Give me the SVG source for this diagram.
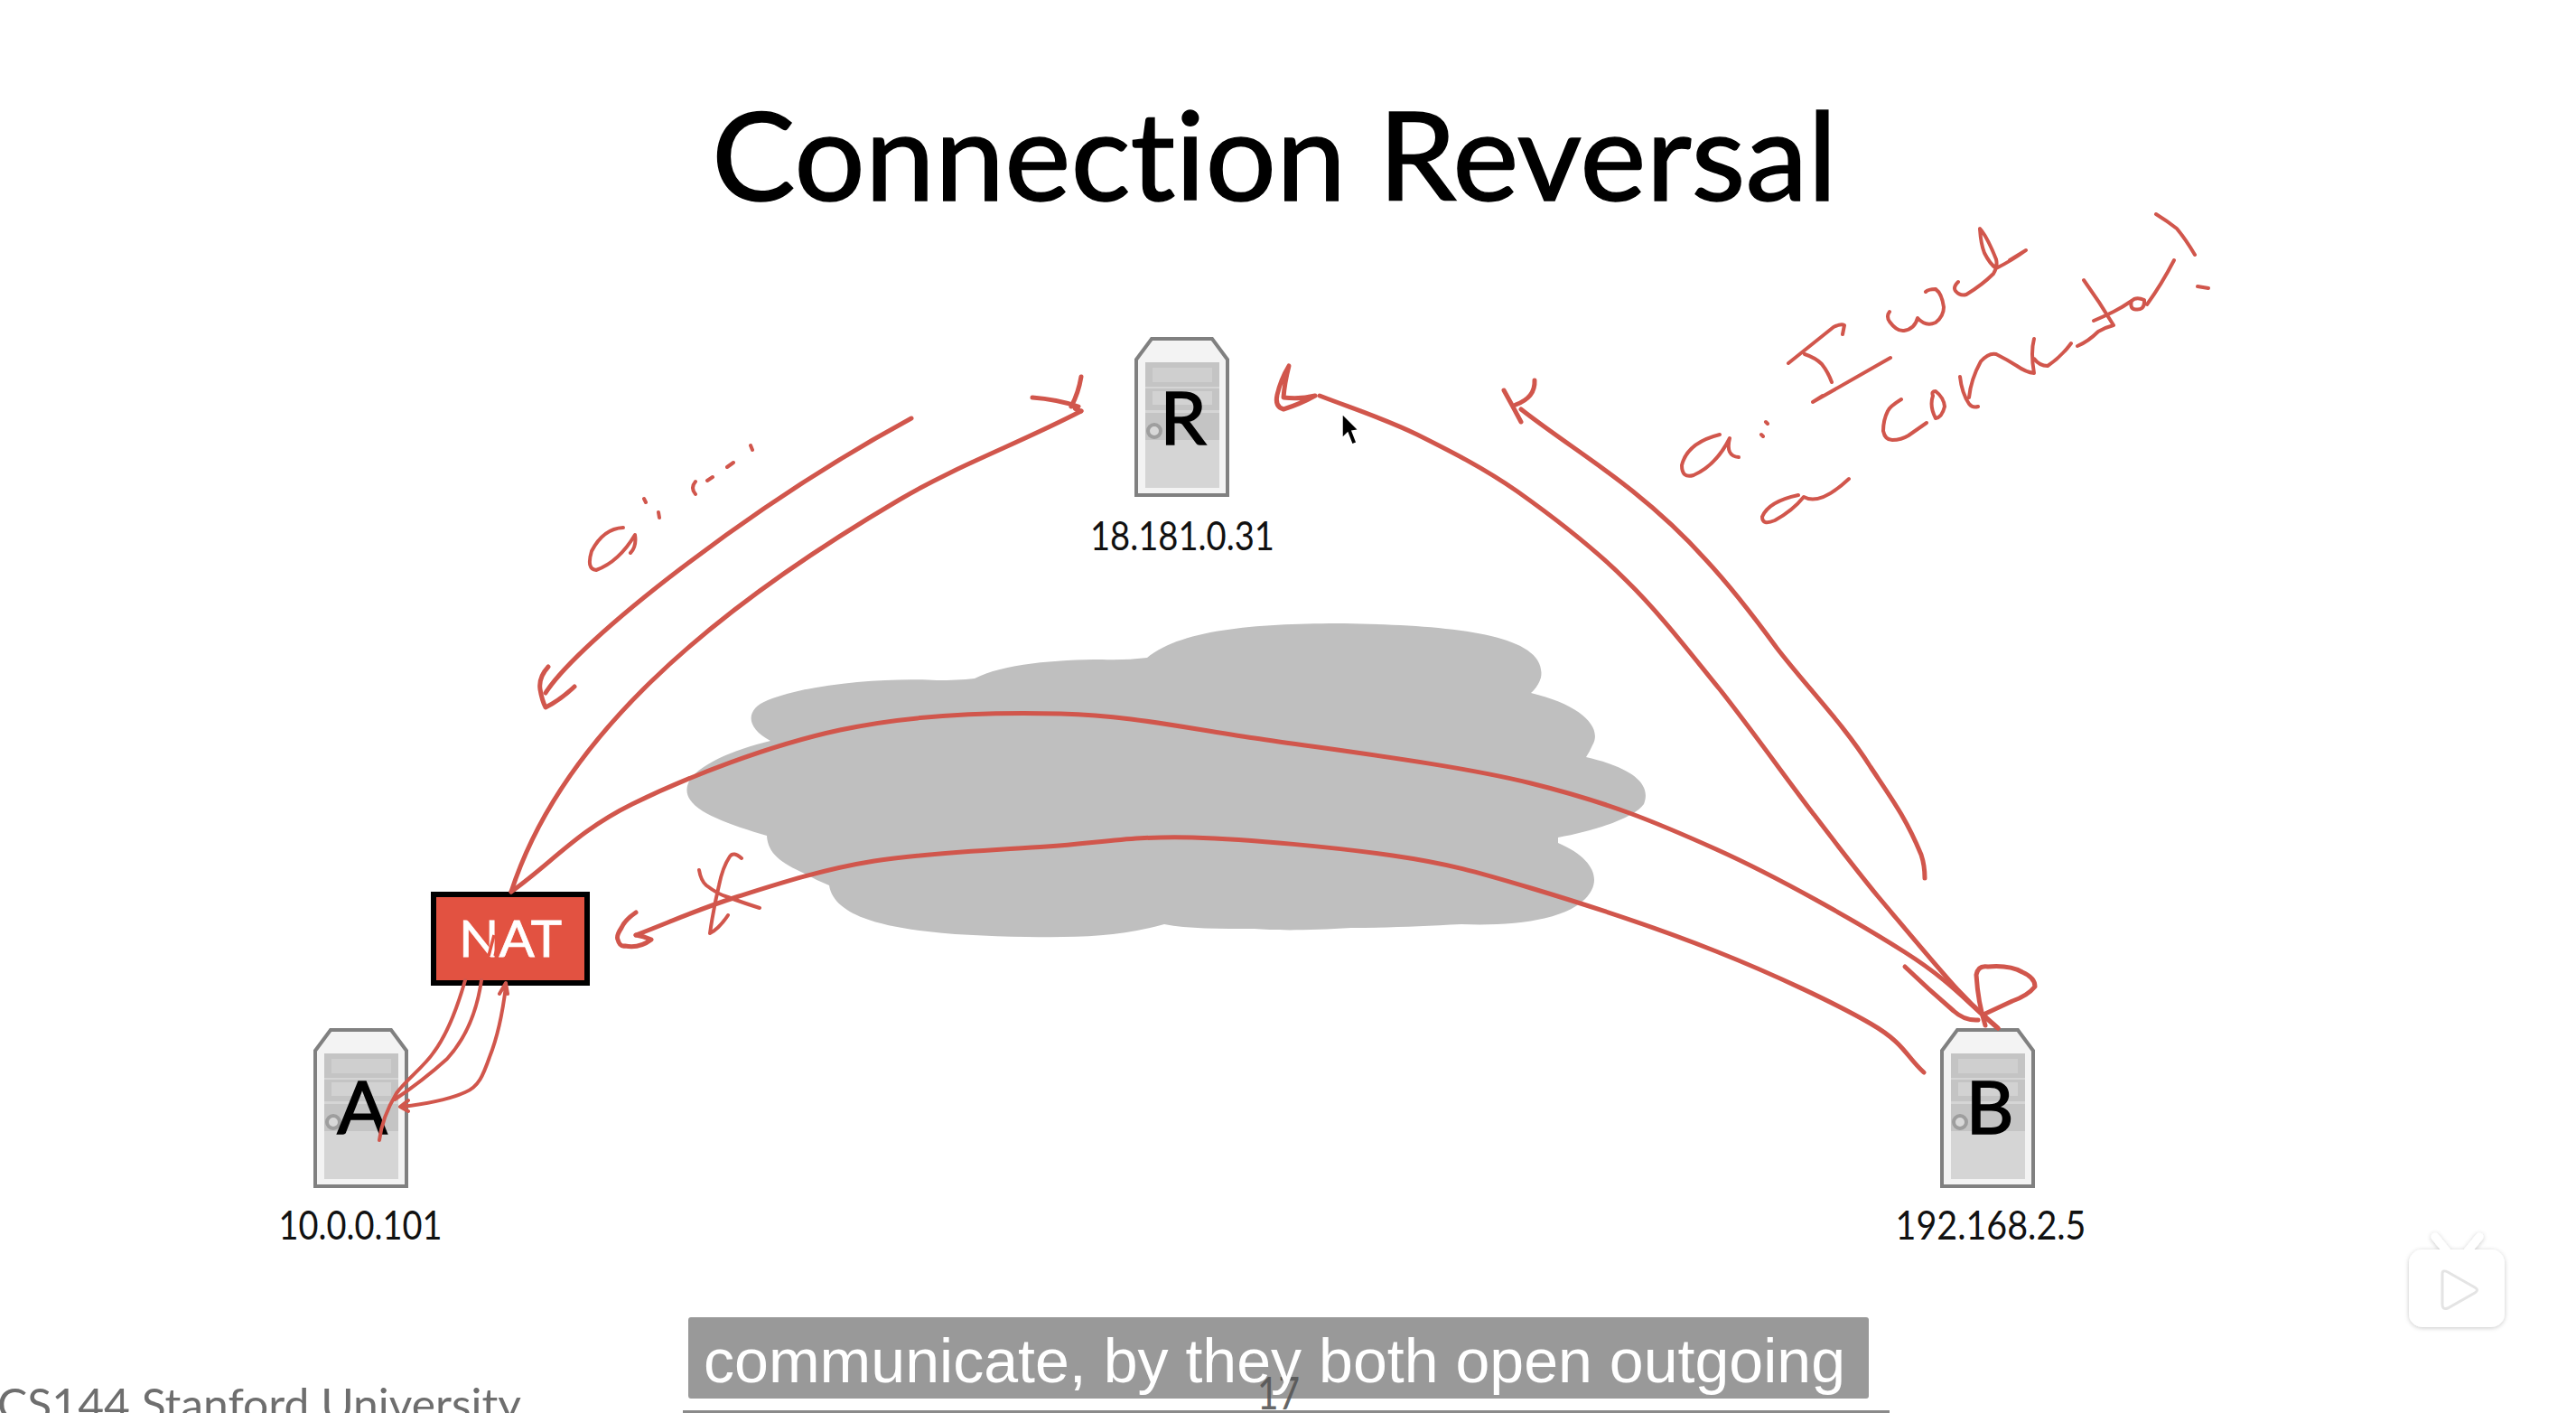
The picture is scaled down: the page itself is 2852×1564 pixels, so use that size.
<svg xmlns="http://www.w3.org/2000/svg" width="2852" height="1564" viewBox="0 0 2852 1564">
<style>
text{font-variant-ligatures:none}
.ink{fill:none;stroke:#d1564c;stroke-width:5;stroke-linecap:round;stroke-linejoin:round}
.thin{stroke-width:4}
.lab{font-family:"Lato","Liberation Sans",sans-serif;fill:#111;font-size:44px;text-anchor:middle}
.letter{font-family:"Lato","Liberation Sans",sans-serif;fill:#000;stroke:#000;stroke-width:1.6px;font-size:82px;text-anchor:middle}
</style>
<defs>
<g id="server">
<path d="M19 2H86L103 25V175H2V25Z" fill="#f3f3f3" stroke="#808080" stroke-width="4"/>
<rect x="12" y="28" width="82" height="139" fill="#d5d5d5"/>
<rect x="12" y="28" width="82" height="27" fill="#c4c4c4"/>
<rect x="20" y="34" width="66" height="16" fill="#cfcfcf"/>
<rect x="12" y="57" width="82" height="24" fill="#c4c4c4"/>
<rect x="20" y="60" width="66" height="15" fill="#d2d2d2"/>
<rect x="12" y="84" width="82" height="30" fill="#c4c4c4"/>
<circle cx="22" cy="104" r="7" fill="#d8d8d8" stroke="#9e9e9e" stroke-width="4"/>
</g>
<filter id="soft" x="-20%" y="-20%" width="140%" height="140%"><feDropShadow dx="0" dy="1" stdDeviation="2.5" flood-color="#000" flood-opacity=".22"/></filter>
</defs>
<rect width="2852" height="1564" fill="#fff"/>
<text id="title" x="1411" y="222" font-family="Lato,'Liberation Sans',sans-serif" font-size="135" text-anchor="middle" textLength="1246" lengthAdjust="spacingAndGlyphs" fill="#000" stroke="#000" stroke-width="1.5">Connection Reversal</text>
<path id="cloud" fill="#bfbfbf" d="M1270 728C1310 695 1400 690 1488 690C1600 692 1715 700 1706 750Q1703 760 1695 767C1750 780 1775 805 1763 825Q1760 832 1756 838C1800 848 1830 865 1820 890C1810 905 1765 920 1725 927L1725 933C1765 950 1775 975 1755 995C1730 1020 1670 1025 1618 1023C1575 1025 1540 1027 1496 1027C1450 1030 1410 1030 1389 1028C1350 1028 1315 1028 1289 1023C1240 1037 1190 1038 1136 1037C1020 1035 925 1025 918 980Q905 975 891 967C865 955 850 945 849 925C800 910 755 895 761 870C765 850 810 830 853 820C825 805 825 785 850 775C900 755 990 750 1037 753Q1060 753 1079 751C1110 735 1170 730 1220 730Q1245 731 1270 728Z"/>
<g id="node-R"><use href="#server" x="1256" y="373"/><text class="letter" x="1310" y="492">R</text><text class="lab" x="1309" y="609" textLength="204" lengthAdjust="spacingAndGlyphs">18.181.0.31</text></g>
<g id="node-A"><use href="#server" x="347" y="1138"/><text class="letter" x="401" y="1255">A</text><text class="lab" x="399" y="1372" textLength="181" lengthAdjust="spacingAndGlyphs">10.0.0.101</text></g>
<g id="node-B"><use href="#server" x="2148" y="1138"/><text class="letter" x="2203" y="1255">B</text><text class="lab" x="2204" y="1372" textLength="211" lengthAdjust="spacingAndGlyphs">192.168.2.5</text></g>
<g id="node-NAT"><rect x="480" y="990" width="170" height="98" fill="#e25241" stroke="#000" stroke-width="6"/><text x="565" y="1059" font-family="Lato,'Liberation Sans',sans-serif" font-size="56" fill="#fff" stroke="#fff" stroke-width=".8" text-anchor="middle" textLength="114" lengthAdjust="spacingAndGlyphs">NAT</text><path d="M547 1035L541 1058M553 1040L548 1058" stroke="#e25241" stroke-width="3.5" fill="none"/></g>
<g id="connectors">
<path class="ink" d="M566 987C620 820 780 680 996 553C1060 515 1130 490 1197 455"/>
<path class="ink" d="M1143 440Q1170 442 1194 450Q1185 452 1197 455M1197 417Q1194 435 1186 450"/>
<path class="ink" d="M1009 463C830 560 640 710 604 767"/>
<path class="ink" d="M607 738Q596 750 598 763Q600 775 604 783Q620 775 636 760"/>
<path class="ink" d="M566 987C611 955 639 920 700 890C761 860 851 825 930 808C1009 791 1097 788 1174 790C1250 792 1302 804 1389 817C1476 830 1610 846 1695 867C1780 888 1831 909 1900 940C1969 971 2057 1021 2109 1054C2161 1087 2178 1110 2212 1138"/>
<path class="ink" d="M704 1035C741 1021 771 1007 815 993C859 979 911 962 968 953C1025 944 1100 941 1159 937C1218 933 1256 925 1320 927C1384 929 1480 938 1542 947C1604 956 1635 965 1695 983C1755 1001 1837 1028 1900 1053C1963 1078 2033 1111 2071 1133C2109 1155 2110 1169 2130 1187"/>
<path class="ink" d="M704 1010Q692 1018 688 1027Q682 1036 684 1040Q686 1048 692 1047Q708 1050 721 1040Q712 1036 704 1035"/>
<path class="ink thin" d="M821 950Q812 942 808 948Q800 960 796 980Q790 1005 786 1033Q796 1028 806 1013M774 963Q776 975 782 980Q795 990 806 993Q825 1000 841 1005"/>
<path class="ink" d="M1461 438C1497 452 1532 463 1569 481C1605 499 1641 517 1680 544C1718 571 1763 605 1800 642C1837 678 1869 720 1904 763C1938 806 1978 862 2007 900C2036 938 2052 959 2079 992C2106 1024 2145 1071 2167 1095C2189 1119 2197 1124 2212 1138"/>
<path class="ink" d="M1456 438Q1440 447 1421 453Q1411 450 1414 437Q1418 420 1427 405Q1422 425 1421 440Q1440 442 1456 438"/>
<path class="ink" d="M2131 972C2131 960 2130 955 2127 946C2110 905 2095 885 2071 849C2040 800 2000 760 1967 717C1940 680 1915 648 1888 619C1862 590 1838 568 1808 544C1770 513 1725 485 1684 453"/>
<path class="ink" d="M1665 432Q1675 450 1684 467M1678 448Q1700 440 1699 421"/>
<path class="ink" d="M2109 1070Q2135 1095 2163 1119Q2175 1130 2190 1129M2198 1135Q2190 1110 2188 1079Q2190 1068 2201 1070Q2225 1068 2239 1076Q2253 1082 2253 1092Q2245 1102 2228 1108L2198 1122"/>
<path class="ink thin" d="M515 1085C505 1120 495 1145 480 1165C470 1180 450 1195 439 1210C430 1225 422 1245 420 1262"/>
<path class="ink thin" d="M533 1085C528 1120 515 1150 495 1172C475 1190 455 1205 437 1217"/>
<path class="ink thin" d="M560 1092C556 1125 550 1150 542 1170C535 1190 530 1203 515 1209C495 1218 470 1222 445 1225M553 1100L560 1088L562 1100M452 1218L443 1225L452 1230"/>
<path class="ink thin" d="M690 584Q668 585 655 610Q649 630 660 631Q685 622 703 592Q705 605 698 612M713 552L715 556M729 567L730 573M770 533Q764 540 770 547M783 532L789 528M805 517L812 512M831 493L833 498"/>
<path class="ink thin" d="M1904 481Q1868 490 1862 515Q1862 530 1875 526Q1900 515 1915 485Q1910 505 1925 506M1955 467L1957 469M1950 481L1952 483"/>
<path class="ink thin" d="M1980 402L2030 362Q2038 358 2042 360L2040 370M1998 392Q2010 396 2017 403Q2024 412 2028 423M2093 396L2007 445L2018 438"/>
<path class="ink thin" d="M2092 345Q2088 350 2092 356Q2100 367 2108 366Q2120 364 2123 352Q2132 362 2143 357Q2152 350 2152 340Q2150 325 2143 320Q2135 320 2132 323M2168 312Q2162 318 2165 322Q2170 328 2177 326Q2195 315 2207 303Q2212 295 2210 287Q2200 262 2192 253Q2193 270 2197 280Q2203 292 2210 297Q2228 288 2243 277L2225 288"/>
<path class="ink thin" d="M1991 548Q1958 555 1951 572Q1951 582 1965 576Q1985 565 1997 550Q2015 560 2047 530"/>
<path class="ink thin" d="M2105 442Q2092 450 2090 455Q2085 465 2085 477Q2087 487 2095 487Q2105 487 2113 482L2133 468M2140 438Q2136 450 2143 463Q2150 462 2153 450Q2152 440 2143 433Q2138 433 2140 438M2170 417Q2172 435 2180 447Q2184 452 2190 450M2180 440Q2182 420 2193 400Q2202 390 2210 392Q2222 398 2233 405Q2243 412 2252 413Q2248 390 2252 375M2252 397Q2258 405 2267 405Q2282 395 2293 380M2300 383Q2312 378 2323 367Q2332 362 2340 360M2307 310Q2325 335 2340 360M2318 355Q2330 350 2340 345Q2350 340 2360 333Q2358 340 2362 342Q2375 345 2374 332Q2365 328 2360 333M2377 337Q2393 315 2407 288"/>
<path class="ink thin" d="M2387 237Q2400 245 2410 253Q2420 265 2430 282M2433 317L2445 319"/>
</g>
<g id="cursor"><path d="M1486 458V485L1492 479L1497 492L1502 490L1497 477L1504 476Z" fill="#000" stroke="#fff" stroke-width="1.5"/></g>
<text id="footer" x="-3" y="1572" font-family="Lato,'Liberation Sans',sans-serif" font-size="48" fill="#6e6e6e" textLength="580" lengthAdjust="spacingAndGlyphs">CS144  Stanford University</text>
<text id="page" x="1392" y="1560" font-family="Lato,'Liberation Sans',sans-serif" font-size="50" fill="#666" textLength="47" lengthAdjust="spacingAndGlyphs">17</text>
<g id="caption"><rect x="762" y="1458" width="1307" height="90" rx="3" fill="#555" fill-opacity=".6"/><text x="1411" y="1530" font-family="'Liberation Sans',sans-serif" font-size="68" fill="#fff" text-anchor="middle" textLength="1264" lengthAdjust="spacingAndGlyphs">communicate, by they both open outgoing</text><rect x="756" y="1561" width="1336" height="3" fill="#8a8a8a"/></g>
<g id="playicon" filter="url(#soft)"><path d="M2696 1369L2709 1385M2745 1369L2732 1385" stroke="#fff" stroke-width="9" stroke-linecap="round" fill="none"/><rect x="2667" y="1383" width="106" height="86" rx="15" fill="#fff"/></g>
<path d="M2704 1410Q2704 1405 2710 1408L2740 1425Q2745 1428 2740 1431L2710 1448Q2704 1450 2704 1444Z" fill="#fff" stroke="#e4e4e4" stroke-width="3"/>
</svg>
